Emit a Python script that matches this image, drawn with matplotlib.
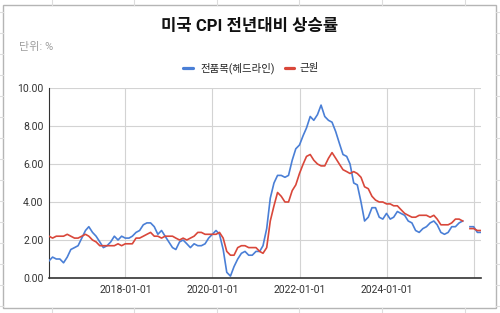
import numpy as np
import pandas as pd
import matplotlib
matplotlib.use("Agg")
import matplotlib.pyplot as plt
from matplotlib.lines import Line2D
from matplotlib.patches import Rectangle

plt.rcParams['font.family'] = ['Roboto', 'Noto Sans CJK KR', 'DejaVu Sans']

TITLE = "미국 CPI 전년대비 상승률"
UNIT = "단위: %"
SERIES_NAMES = ["전품목(헤드라인)", "근원"]

# monthly, 2016-03 .. 2026-02 (month-end dates), NaN = missing month
months = pd.date_range("2016-03-01", "2026-02-01", freq="MS") + pd.offsets.MonthEnd(0)

headline = [
    0.9, 1.1, 1.0, 1.0, 0.8, 1.1, 1.5, 1.6, 1.7, 2.1,
    2.5, 2.7, 2.4, 2.2, 1.9, 1.6, 1.7, 1.9, 2.2, 2.0, 2.2, 2.1,
    2.1, 2.2, 2.4, 2.5, 2.8, 2.9, 2.9, 2.7, 2.3, 2.5, 2.2, 1.9,
    1.6, 1.5, 1.9, 2.0, 1.8, 1.6, 1.8, 1.7, 1.7, 1.8, 2.1, 2.3,
    2.5, 2.3, 1.5, 0.3, 0.1, 0.6, 1.0, 1.3, 1.4, 1.2, 1.2, 1.4,
    1.4, 1.7, 2.6, 4.2, 5.0, 5.4, 5.4, 5.3, 5.4, 6.2, 6.8, 7.0,
    7.5, 7.9, 8.5, 8.3, 8.6, 9.1, 8.5, 8.3, 8.2, 7.7, 7.1, 6.5,
    6.4, 6.0, 5.0, 4.9, 4.0, 3.0, 3.2, 3.7, 3.7, 3.2, 3.1, 3.4,
    3.1, 3.2, 3.5, 3.4, 3.3, 3.0, 2.9, 2.5, 2.4, 2.6, 2.7, 2.9,
    3.0, 2.8, 2.4, 2.3, 2.4, 2.7, 2.7, 2.9, 3.0, np.nan, 2.7, 2.7,
    2.4, 2.4,
]
core = [
    2.2, 2.1, 2.2, 2.2, 2.2, 2.3, 2.2, 2.1, 2.1, 2.2,
    2.3, 2.2, 2.0, 1.9, 1.7, 1.7, 1.7, 1.7, 1.7, 1.8, 1.7, 1.8,
    1.8, 1.8, 2.1, 2.1, 2.2, 2.3, 2.4, 2.2, 2.2, 2.1, 2.2, 2.2,
    2.2, 2.1, 2.0, 2.1, 2.0, 2.1, 2.2, 2.4, 2.4, 2.3, 2.3, 2.3,
    2.3, 2.4, 2.1, 1.4, 1.2, 1.2, 1.6, 1.7, 1.7, 1.6, 1.6, 1.6,
    1.4, 1.3, 1.6, 3.0, 3.8, 4.5, 4.3, 4.0, 4.0, 4.6, 4.9, 5.5,
    6.0, 6.4, 6.5, 6.2, 6.0, 5.9, 5.9, 6.3, 6.6, 6.3, 6.0, 5.7,
    5.6, 5.5, 5.6, 5.5, 5.3, 4.8, 4.7, 4.3, 4.1, 4.0, 4.0, 3.9,
    3.9, 3.8, 3.8, 3.6, 3.4, 3.3, 3.2, 3.2, 3.3, 3.3, 3.3, 3.2,
    3.3, 3.1, 2.8, 2.8, 2.8, 2.9, 3.1, 3.1, 3.0, np.nan, 2.6, 2.6,
    2.5, 2.5,
]

x_ticks = ["2018-01-01", "2020-01-01", "2022-01-01", "2024-01-01", "2026-01-01"]
x_tick_labels = ["2018-01-01", "2020-01-01", "2022-01-01", "2024-01-01", ""]
y_ticks = [0, 2, 4, 6, 8, 10]

BLUE = "#4a7fd6"
RED = "#d9473a"
W, H = 500, 313

fig = plt.figure(figsize=(W / 100, H / 100), dpi=100)
fig.patch.set_facecolor("white")

def px(x, y):
    return x / W, 1 - y / H

# spreadsheet cell lines around the chart
for xv in [52, 134, 217, 299, 382, 465]:
    for y0, y1 in [(0, 5), (308, 313)]:
        fig.add_artist(Line2D([xv / W, xv / W], [1 - y0 / H, 1 - y1 / H],
                              color="#dddddd", lw=0.8))
for yv in range(12, 313, 21):
    for x0, x1 in [(0, 3), (496, 500)]:
        fig.add_artist(Line2D([x0 / W, x1 / W], [1 - yv / H, 1 - yv / H],
                              color="#dddddd", lw=0.8))

# chart frame
fig.add_artist(Rectangle(px(3, 308), 493 / W, 303 / H, transform=fig.transFigure,
                         fill=False, edgecolor="#b5b5b5", lw=1.0))

fig.text(*px(250, 27), TITLE, ha="center", va="center", fontsize=12,
         fontweight="bold", color="#111111")
fig.text(*px(19, 47), UNIT, ha="left", va="center", fontsize=8, color="#9e9e9e")

# legend
for (x0, x1, tx), name, col in zip([(183, 193, 200), (285, 294, 299)], SERIES_NAMES, [BLUE, RED]):
    fig.add_artist(Line2D([x0 / W, x1 / W], [1 - 68 / H] * 2, color=col, lw=2.3,
                          solid_capstyle="round"))
    fig.text(*px(tx, 68), name, ha="left", va="center", fontsize=7.5, color="#222222")

left, right, top, bottom = 49, 480.7, 88, 278
ax = fig.add_axes([left / W, 1 - bottom / H, (right - left) / W, (bottom - top) / H])
ax.plot(months, headline, color=BLUE, lw=1.2, zorder=3)
ax.plot(months, core, color=RED, lw=1.2, zorder=3)

ax.set_xlim(months[0], months[-1])
ax.set_ylim(0, 10)
ax.set_yticks(y_ticks)
ax.set_yticklabels([f"{v:.2f}" for v in y_ticks])
ax.set_xticks(pd.to_datetime(x_ticks))
ax.set_xticklabels(x_tick_labels)
ax.tick_params(axis="both", length=0, labelsize=7.5, colors="#333333")
ax.tick_params(axis="y", pad=4)
ax.tick_params(axis="x", pad=5)
ax.grid(True, color="#d3d3d3", lw=0.8)
ax.set_axisbelow(True)
for s in ["top", "right"]:
    ax.spines[s].set_visible(False)
ax.spines["left"].set_color("#333333")
ax.spines["left"].set_linewidth(0.8)
ax.spines["bottom"].set_color("#333333")
ax.spines["bottom"].set_linewidth(1.2)

fig.savefig("out.png", dpi=100)
